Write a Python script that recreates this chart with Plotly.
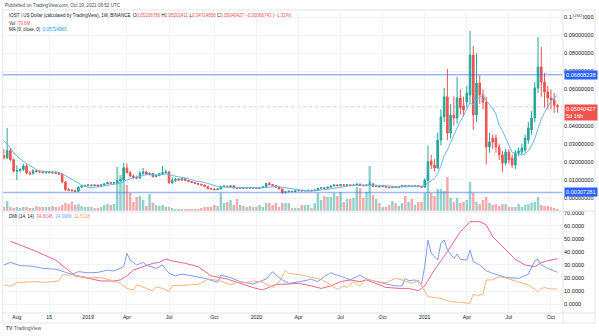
import pandas as pd
import plotly.graph_objects as go

# ---------------- data ----------------
start_date = "2018-07-09"          # first weekly bar (Monday)
n_weeks = 172

open_ = [
 0.0235,0.0222,0.0262,0.0212,0.0148,0.0152,0.0156,0.0177,0.0138,0.0134,
 0.0150,0.0146,0.0143,0.0140,0.0144,0.0140,0.0142,0.0136,0.0132,0.0088,
 0.0046,0.0042,0.0040,0.0037,0.0060,0.0066,0.0069,0.0072,0.0068,0.0072,
 0.0066,0.0072,0.0078,0.0085,0.0082,0.0084,0.0096,0.0100,0.0166,0.0140,
 0.0122,0.0114,0.0110,0.0136,0.0144,0.0130,0.0136,0.0118,0.0125,0.0134,
 0.0140,0.0144,0.0085,0.0096,0.0104,0.0099,0.0107,0.0097,0.0091,0.0086,
 0.0080,0.0076,0.0072,0.0064,0.0051,0.0050,0.0046,0.0050,0.0063,0.0066,
 0.0063,0.0067,0.0056,0.0053,0.0056,0.0054,0.0057,0.0054,0.0056,0.0053,
 0.0058,0.0062,0.0080,0.0074,0.0068,0.0060,0.0050,0.0029,0.0034,0.0037,
 0.0035,0.0040,0.0042,0.0039,0.0041,0.0043,0.0040,0.0044,0.0053,0.0056,
 0.0054,0.0060,0.0066,0.0072,0.0068,0.0074,0.0070,0.0073,0.0069,0.0072,
 0.0077,0.0070,0.0068,0.0072,0.0078,0.0064,0.0066,0.0062,0.0065,0.0060,
 0.0057,0.0061,0.0058,0.0062,0.0068,0.0063,0.0067,0.0064,0.0068,0.0065,
 0.0060,0.0099,0.0205,0.0182,0.0166,0.0320,0.0448,0.0558,0.0359,0.0458,
 0.0442,0.0553,0.0510,0.0530,0.0569,0.0790,0.0459,0.0635,0.0569,0.0530,
 0.0282,0.0330,0.0331,0.0282,0.0238,0.0193,0.0254,0.0221,0.0182,0.0249,
 0.0254,0.0265,0.0320,0.0376,0.0442,0.0608,0.0724,0.0641,0.0586,0.0553,
 0.0542,0.05106786]
high_ = [
 0.0270,0.0387,0.0276,0.0218,0.0180,0.0165,0.0190,0.0186,0.0150,0.0160,
 0.0158,0.0152,0.0150,0.0148,0.0150,0.0146,0.0148,0.0140,0.0136,0.0092,
 0.0055,0.0050,0.0046,0.0064,0.0070,0.0072,0.0076,0.0075,0.0076,0.0074,
 0.0076,0.0082,0.0090,0.0090,0.0088,0.0100,0.0108,0.0193,0.0190,0.0150,
 0.0130,0.0124,0.0150,0.0166,0.0150,0.0142,0.0140,0.0130,0.0138,0.0177,
 0.0158,0.0148,0.0115,0.0110,0.0112,0.0112,0.0110,0.0100,0.0094,0.0088,
 0.0083,0.0079,0.0075,0.0066,0.0055,0.0052,0.0054,0.0068,0.0070,0.0068,
 0.0070,0.0069,0.0058,0.0058,0.0058,0.0059,0.0059,0.0058,0.0058,0.0060,
 0.0064,0.0084,0.0088,0.0077,0.0070,0.0062,0.0052,0.0037,0.0040,0.0039,
 0.0042,0.0044,0.0043,0.0043,0.0045,0.0044,0.0046,0.0056,0.0058,0.0058,
 0.0062,0.0068,0.0076,0.0075,0.0077,0.0076,0.0075,0.0075,0.0074,0.0079,
 0.0079,0.0073,0.0074,0.0092,0.0082,0.0068,0.0068,0.0067,0.0066,0.0062,
 0.0063,0.0062,0.0064,0.0070,0.0070,0.0069,0.0068,0.0070,0.0069,0.0067,
 0.0108,0.0290,0.0240,0.0215,0.0360,0.0490,0.0608,0.0713,0.0520,0.0560,
 0.0669,0.0600,0.0560,0.0620,0.0923,0.0840,0.0800,0.0680,0.0600,0.0560,
 0.0360,0.0350,0.0350,0.0300,0.0260,0.0270,0.0270,0.0240,0.0265,0.0280,
 0.0300,0.0350,0.0420,0.0480,0.0640,0.0890,0.0834,0.0690,0.0620,0.0600,
 0.0580,0.05202411]
low_ = [
 0.0212,0.0215,0.0205,0.0140,0.0099,0.0140,0.0150,0.0130,0.0125,0.0130,
 0.0140,0.0138,0.0136,0.0134,0.0136,0.0133,0.0132,0.0128,0.0082,0.0040,
 0.0038,0.0036,0.0034,0.0035,0.0056,0.0062,0.0066,0.0064,0.0065,0.0062,
 0.0064,0.0070,0.0076,0.0078,0.0078,0.0080,0.0090,0.0096,0.0135,0.0115,
 0.0108,0.0106,0.0106,0.0128,0.0126,0.0124,0.0112,0.0114,0.0120,0.0128,
 0.0134,0.0078,0.0076,0.0090,0.0096,0.0095,0.0094,0.0088,0.0083,0.0077,
 0.0073,0.0069,0.0061,0.0048,0.0047,0.0044,0.0044,0.0048,0.0060,0.0060,
 0.0060,0.0053,0.0051,0.0051,0.0052,0.0052,0.0052,0.0052,0.0051,0.0052,
 0.0056,0.0060,0.0071,0.0066,0.0058,0.0048,0.0022,0.0026,0.0032,0.0033,
 0.0034,0.0038,0.0037,0.0038,0.0040,0.0038,0.0039,0.0043,0.0051,0.0051,
 0.0053,0.0058,0.0064,0.0065,0.0066,0.0068,0.0068,0.0067,0.0067,0.0070,
 0.0068,0.0066,0.0066,0.0070,0.0062,0.0060,0.0060,0.0061,0.0058,0.0055,
 0.0055,0.0056,0.0057,0.0061,0.0061,0.0062,0.0062,0.0063,0.0063,0.0057,
 0.0058,0.0095,0.0160,0.0148,0.0160,0.0290,0.0420,0.0320,0.0330,0.0400,
 0.0410,0.0460,0.0450,0.0500,0.0520,0.0376,0.0420,0.0520,0.0490,0.0185,
 0.0250,0.0270,0.0250,0.0210,0.0144,0.0180,0.0190,0.0165,0.0160,0.0230,
 0.0240,0.0250,0.0300,0.0350,0.0420,0.0580,0.0560,0.0500,0.0490,0.0490,
 0.0470,0.04714856]
close_ = [
 0.0222,0.0262,0.0212,0.0148,0.0152,0.0156,0.0177,0.0138,0.0134,0.0150,
 0.0146,0.0143,0.0140,0.0144,0.0140,0.0142,0.0136,0.0132,0.0088,0.0046,
 0.0042,0.0040,0.0037,0.0060,0.0066,0.0069,0.0072,0.0068,0.0072,0.0066,
 0.0072,0.0078,0.0085,0.0082,0.0084,0.0096,0.0100,0.0166,0.0140,0.0122,
 0.0114,0.0110,0.0136,0.0144,0.0130,0.0136,0.0118,0.0125,0.0134,0.0140,
 0.0144,0.0085,0.0096,0.0104,0.0099,0.0107,0.0097,0.0091,0.0086,0.0080,
 0.0076,0.0072,0.0064,0.0051,0.0050,0.0046,0.0050,0.0063,0.0066,0.0063,
 0.0067,0.0056,0.0053,0.0056,0.0054,0.0057,0.0054,0.0056,0.0053,0.0058,
 0.0062,0.0080,0.0074,0.0068,0.0060,0.0050,0.0029,0.0034,0.0037,0.0035,
 0.0040,0.0042,0.0039,0.0041,0.0043,0.0040,0.0044,0.0053,0.0056,0.0054,
 0.0060,0.0066,0.0072,0.0068,0.0074,0.0070,0.0073,0.0069,0.0072,0.0077,
 0.0070,0.0068,0.0072,0.0078,0.0064,0.0066,0.0062,0.0065,0.0060,0.0057,
 0.0061,0.0058,0.0062,0.0068,0.0063,0.0067,0.0064,0.0068,0.0065,0.0060,
 0.0099,0.0199,0.0182,0.0166,0.0320,0.0448,0.0558,0.0359,0.0458,0.0442,
 0.0553,0.0500,0.0486,0.0580,0.0790,0.0459,0.0635,0.0569,0.0530,0.0282,
 0.0310,0.0310,0.0282,0.0238,0.0193,0.0254,0.0210,0.0182,0.0249,0.0260,
 0.0276,0.0331,0.0387,0.0442,0.0608,0.0724,0.0641,0.0586,0.0553,0.0542,
 0.0511,0.05040427]
# closes of the 8 weeks before the first bar (only feed the MA(9))
prior_closes = [0.0430, 0.0405, 0.0385, 0.0330, 0.0300, 0.0280, 0.0265, 0.0235]

volume_m = [
 160,400,160,120,160,120,160,160,120,120,
 200,160,160,160,160,200,160,160,240,320,
 280,360,240,280,200,160,160,160,120,120,
 160,240,280,240,280,1760,1440,1760,1040,720,
 360,560,600,440,200,680,320,240,200,240,
 160,160,120,80,80,80,80,80,80,80,
 80,120,160,160,160,240,200,720,320,360,
 440,240,480,240,200,160,200,160,160,240,
 160,320,320,240,320,160,320,320,320,120,
 120,120,240,240,240,120,320,720,440,600,
 560,560,720,600,760,360,480,480,520,960,
 920,520,760,1800,640,480,320,160,160,240,
 400,320,200,320,600,360,480,240,360,360,
 720,1440,720,600,880,880,800,1360,520,360,
 520,320,360,440,1160,720,360,280,440,560,
 320,240,280,200,280,280,160,160,160,280,
 160,240,280,320,360,560,240,200,200,160,
 120,79.6]

# DMI (14,14): week index -> value
adx_weeks = [2,9,16,19,22,26,30,34,36,38,40,43,46,48,50,52,56,60,64,69,73,77,80,84,88,91,
             95,98,101,104,107,110,112,115,118,122,125,128,130,133,137,141,144,147,149,151,
             155,158,161,164,166,168,171]
adx_vals = [48.2,41.5,33.8,27.4,21.7,19.8,17.7,17.7,18.5,21.7,26.1,28.7,31.3,32.0,34.6,33.1,
            31.3,28.7,21.7,19.2,15.9,12.6,10.8,15.1,15.3,16.0,13.9,12.0,13.9,17.2,18.5,17.2,
            18.5,15.4,12.8,12.0,12.0,10.3,13.9,26.2,40.3,55.6,63.3,63.3,60.8,51.8,41.5,34.3,
            30.0,28.7,31.8,33.3,34.8245]
pdi_weeks = [0,2,5,9,12,16,19,21,23,26,29,32,34,36,37,38,39,41,43,44,47,49,51,53,55,58,62,66,
             67,70,73,77,79,81,83,84,86,88,91,95,97,99,101,102,105,107,110,112,113,115,118,121,
             123,124,125,127,129,130,131,132,134,135,136,137,139,140,141,143,144,145,147,149,
             151,155,159,162,164,165,166,168,171]
pdi_vals = [30.0,32.0,29.5,29.0,27.4,26.8,24.4,22.8,24.9,24.0,24.3,26.0,25.4,27.4,28.7,39.0,
            33.8,30.0,32.0,30.0,27.4,30.0,23.6,21.7,23.0,21.7,19.8,16.7,22.3,20.3,17.2,15.4,
            17.2,19.2,24.9,22.3,18.5,15.9,17.0,19.0,17.2,21.1,24.1,23.0,20.5,18.5,22.3,19.2,
            18.5,17.2,15.4,13.9,13.9,19.7,17.9,18.5,15.4,28.7,49.2,39.0,33.8,46.7,49.2,41.5,
            35.1,38.5,34.3,33.8,41.5,32.6,30.0,25.6,23.6,20.5,19.7,23.0,33.3,34.3,30.0,27.4,
            24.3966]
mdi_weeks = [0,2,4,7,9,13,17,18,22,26,30,34,36,38,40,41,42,44,46,47,49,51,52,57,60,62,63,65,
             67,70,72,75,77,80,83,85,87,88,92,95,98,101,103,105,106,108,110,112,115,118,121,123,
             126,128,130,131,135,138,141,144,145,146,148,149,151,153,155,159,162,165,166,167,
             169,171]
mdi_vals = [14.6,13.8,16.4,16.7,17.2,16.7,17.7,22.3,22.3,20.3,20.3,17.7,15.9,12.0,10.8,14.6,
            14.1,12.0,10.1,13.3,12.0,9.5,14.1,14.6,15.1,17.7,19.2,18.5,17.7,14.6,16.7,16.7,
            17.7,16.7,12.8,16.7,26.0,23.6,22.3,20.5,19.0,14.6,11.3,13.9,12.8,17.2,13.9,19.2,
            17.4,16.4,19.7,18.5,15.9,18.5,10.3,5.6,4.4,1.8,1.3,0.5,7.7,6.2,7.7,18.5,18.5,21.1,
            20.0,17.2,14.6,9.5,12.0,12.6,11.5,11.5138]

price_ticks = [0.00, 0.01, 0.02, 0.03, 0.04, 0.05, 0.06, 0.07, 0.08, 0.09, 0.10]
price_tick_text = ["0.00000000", "0.01000000", "0.02000000", "0.03000000", "0.04000000",
                   "", "0.06000000", "0.07000000", "0.08000000", "0.09000000", "0.10000000"]
dmi_ticks = [0, 10, 20, 30, 40, 50, 60, 70]
x_tick_dates = ["2018-08-06", "2018-10-15", "2019-01-07", "2019-04-01", "2019-07-01",
                "2019-10-07", "2020-01-06", "2020-04-06", "2020-07-06", "2020-10-05",
                "2021-01-04", "2021-04-05", "2021-07-05", "2021-10-04"]
x_tick_text = ["Aug", "15", "2019", "Apr", "Jul", "Oct", "2020", "Apr", "Jul", "Oct",
               "2021", "Apr", "Jul", "Oct"]
level_top = 0.06808238
level_bottom = 0.00307281
last_close = 0.05040427

# ---------------- derived ----------------
dates = pd.date_range(start_date, periods=n_weeks, freq="7D")
ma9 = pd.Series(prior_closes + close_).rolling(9).mean().iloc[8:].values
up = [c >= o for o, c in zip(open_, close_)]
GREEN, RED = "#26a69a", "#ef5350"
vol_colors = ["rgba(38,166,154,0.5)" if u else "rgba(239,83,80,0.5)" for u in up]
wk = lambda ws: [dates[0] + pd.Timedelta(days=7 * w) for w in ws]

# ---------------- geometry ----------------
W, H = 599, 336
ML, MR, MT, MB = 3, 36, 12, 23
PW, PH = W - ML - MR, H - MT - MB
split = (H - MB - 211) / PH          # price / DMI pane boundary


def px(x):
    return (x - ML) / PW


def py(y):
    return (H - MB - y) / PH


FONT = "Liberation Sans"
TXT = "#131722"
GRID = "#f0f3fa"
BORDER = "#e0e3eb"

fig = go.Figure()
fig.add_trace(go.Bar(x=dates, y=volume_m, marker=dict(color=vol_colors, line_width=0),
                     width=5.3 * 86400000, xaxis="x", yaxis="y", showlegend=False,
                     hoverinfo="skip"))
fig.add_trace(go.Candlestick(
    x=dates, open=open_, high=high_, low=low_, close=close_, xaxis="x", yaxis="y2",
    increasing=dict(line=dict(color=GREEN, width=1), fillcolor=GREEN),
    decreasing=dict(line=dict(color=RED, width=1), fillcolor=RED),
    whiskerwidth=0, showlegend=False))
fig.add_trace(go.Scatter(x=dates, y=ma9, mode="lines", line=dict(color="#6cb3f0", width=1),
                         xaxis="x", yaxis="y2", showlegend=False))
for ws, vs, col in [(adx_weeks, adx_vals, "#f0628f"), (pdi_weeks, pdi_vals, "#7f9cf5"),
                    (mdi_weeks, mdi_vals, "#ffb27a")]:
    fig.add_trace(go.Scatter(x=wk(ws), y=vs, mode="lines", line=dict(color=col, width=1),
                             xaxis="x2", yaxis="y3", showlegend=False))

xr = ["2018-07-07", "2021-10-30"]
fig.update_layout(
    width=W, height=H, margin=dict(l=ML, r=MR, t=MT, b=MB),
    paper_bgcolor="white", plot_bgcolor="white",
    font=dict(family=FONT, size=5.5, color=TXT),
    showlegend=False,
    xaxis=dict(domain=[0, 1], anchor="y", range=xr, type="date", tickvals=x_tick_dates,
               showticklabels=False, showgrid=True, gridcolor=GRID, gridwidth=1,
               zeroline=False, showline=False, ticks="", rangeslider=dict(visible=False)),
    xaxis2=dict(domain=[0, 1], anchor="y3", matches="x", range=xr, type="date",
                tickvals=x_tick_dates, ticktext=x_tick_text, showgrid=True, gridcolor=GRID,
                zeroline=False, showline=False, ticks="", tickfont=dict(size=5.2, color=TXT),
                rangeslider=dict(visible=False)),
    yaxis=dict(domain=[split, 1], anchor="x", range=[0, 199 * 40], visible=False,
               showgrid=False, fixedrange=True),
    yaxis2=dict(overlaying="y", anchor="x", side="right",
                range=[-13 / 1810, 186 / 1810], tickvals=price_ticks, ticktext=price_tick_text,
                showgrid=True, gridcolor=GRID, zeroline=False, showline=False, ticks="",
                tickfont=dict(size=5.6, color=TXT)),
    yaxis3=dict(domain=[0, split], anchor="x2", side="right", range=[-6.9, 71.5],
                tickvals=dmi_ticks, tickformat=".4f", showgrid=True, gridcolor=GRID,
                zeroline=False, showline=False, ticks="", tickfont=dict(size=5.6, color=TXT)),
)

shapes = []
for lvl in (level_top, level_bottom):
    shapes.append(dict(type="line", xref="paper", yref="y2", x0=0, x1=1, y0=lvl, y1=lvl,
                       line=dict(color="rgba(41,98,255,0.45)", width=1.6)))
shapes.append(dict(type="line", xref="paper", yref="y2", x0=0, x1=1, y0=last_close,
                   y1=last_close, line=dict(color="rgba(239,83,80,0.3)", width=1, dash="dot"),
                   layer="below"))
# pane / frame borders
shapes += [
    dict(type="line", xref="paper", yref="paper", x0=px(2.7), x1=px(595), y0=split, y1=split,
         line=dict(color=BORDER, width=1)),
    dict(type="line", xref="paper", yref="paper", x0=px(2.7), x1=px(595), y0=py(313), y1=py(313),
         line=dict(color=BORDER, width=1)),
    dict(type="rect", xref="paper", yref="paper", x0=px(2.7), x1=px(595), y0=py(323), y1=py(10),
         line=dict(color=BORDER, width=1)),
    dict(type="line", xref="paper", yref="paper", x0=1, x1=1, y0=py(323), y1=py(10),
         line=dict(color=BORDER, width=1)),
]
fig.update_layout(shapes=shapes)

ann = []
def add_text(x, y, text, size=4.6, color=TXT, **kw):
    ann.append(dict(xref="paper", yref="paper", x=px(x), y=py(y), text=text, showarrow=False,
                    xanchor="left", yanchor="middle", font=dict(size=size, color=color,
                                                                family=FONT), **kw))

add_text(3, 5.7, "Published on TradingView.com, Oct 19, 2021 08:52 UTC", size=4.6, color="#434651")
R = "#ef5350"
add_text(7, 16,
         "IOST / US Dollar (calculated by TradingView), 1W, BINANCE  "
         f"O<span style='color:{R}'>0.05106786</span> H<span style='color:{R}'>0.05202411</span> "
         f"L<span style='color:{R}'>0.04714856</span> C<span style='color:{R}'>0.05040427</span> "
         f"<span style='color:{R}'>−0.00066743 (−1.31%)</span>", size=4.5)
add_text(7, 23.3, f"Vol  <span style='color:{R}'>79.6M</span>", size=4.5)
add_text(7, 29.5, "MA (9, close, 0)  <span style='color:#2196f3'>0.05724960</span>", size=4.5)
add_text(7, 216, "DMI (14, 14)  <span style='color:#f0628f'>34.8245</span>  "
         "<span style='color:#7f9cf5'>24.3966</span>  <span style='color:#ffa05c'>11.5138</span>",
         size=4.5)
add_text(4, 328, "<b>TV</b> TradingView", size=5, color="#50535e")

# price-scale badges
for lvl, txt, col in [(level_top, "0.06808238", "#2962ff"), (level_bottom, "0.00307281", "#2962ff")]:
    ann.append(dict(xref="paper", yref="y2", x=px(564), y=lvl, text=txt, showarrow=False,
                    xanchor="left", yanchor="middle", bgcolor=col, borderpad=1,
                    font=dict(size=5.6, color="white", family=FONT)))
ann.append(dict(xref="paper", yref="paper", x=px(564), y=py(104), text="0.05040427<br>5d 16h",
                showarrow=False, xanchor="left", yanchor="top", align="left", bgcolor=R,
                borderpad=1, font=dict(size=5.6, color="white", family=FONT)))
ann.append(dict(xref="paper", yref="paper", x=px(577), y=py(15.5), text="USD", showarrow=False,
                xanchor="center", yanchor="middle", bgcolor="white", bordercolor=BORDER,
                borderwidth=0.5, borderpad=0.5, font=dict(size=4.4, color="#434651", family=FONT)))
fig.update_layout(annotations=ann)

fig.write_html("out.html")
